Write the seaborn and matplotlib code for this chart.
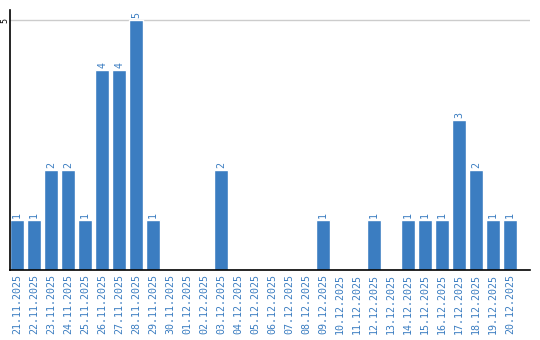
import matplotlib
matplotlib.use("Agg")
import matplotlib.pyplot as plt
import seaborn as sns
import pandas as pd

dates = ["21.11.2025", "22.11.2025", "23.11.2025", "24.11.2025", "25.11.2025",
         "26.11.2025", "27.11.2025", "28.11.2025", "29.11.2025", "30.11.2025",
         "01.12.2025", "02.12.2025", "03.12.2025", "04.12.2025", "05.12.2025",
         "06.12.2025", "07.12.2025", "08.12.2025", "09.12.2025", "10.12.2025",
         "11.12.2025", "12.12.2025", "13.12.2025", "14.12.2025", "15.12.2025",
         "16.12.2025", "17.12.2025", "18.12.2025", "19.12.2025", "20.12.2025"]
counts = [1, 1, 2, 2, 1, 4, 4, 5, 1, 0,
          0, 0, 2, 0, 0, 0, 0, 0, 1, 0,
          0, 1, 0, 1, 1, 1, 3, 2, 1, 1]
yticks = [5]

df = pd.DataFrame({"date": dates, "count": counts})

sns.set_style("white")
plt.rcParams["font.family"] = ["DejaVu Sans Mono", "DejaVu Sans"]

BLUE = "#3b7dc1"
fig = plt.figure(figsize=(5.4, 3.4), dpi=100)
ax = fig.add_axes([10 / 540, 70 / 340, 520 / 540, 260 / 340])

sns.barplot(data=df, x="date", y="count", order=dates, color=BLUE,
            saturation=1, width=0.84, ax=ax)

ax.set_xlim(-0.42, 30.18)
ax.set_ylim(0, 5.2)
ax.set_yticks(yticks)
ax.set_yticklabels([str(v) for v in yticks], rotation=90, va="center",
                   ha="right", fontsize=6, color="black")
ax.yaxis.grid(True, color="#cccccc", linewidth=1)
ax.set_axisbelow(True)
ax.tick_params(axis="x", length=0, pad=3)
ax.tick_params(axis="y", length=0, pad=0.5)
for lab in ax.get_xticklabels():
    lab.set_rotation(90)
    lab.set_color(BLUE)
    lab.set_fontsize(7.2)
ax.set_xlabel("")
ax.set_ylabel("")

for s in ["top", "right"]:
    ax.spines[s].set_visible(False)
for s in ["left", "bottom"]:
    ax.spines[s].set_visible(True)
    ax.spines[s].set_color("black")
    ax.spines[s].set_linewidth(1.2)

cont = ax.containers[0]
labels = [str(v) if v > 0 else "" for v in counts]
ax.bar_label(cont, labels=labels, rotation=90, color=BLUE, fontsize=7.2,
             padding=1.5)

fig.savefig("out.png", dpi=100)
